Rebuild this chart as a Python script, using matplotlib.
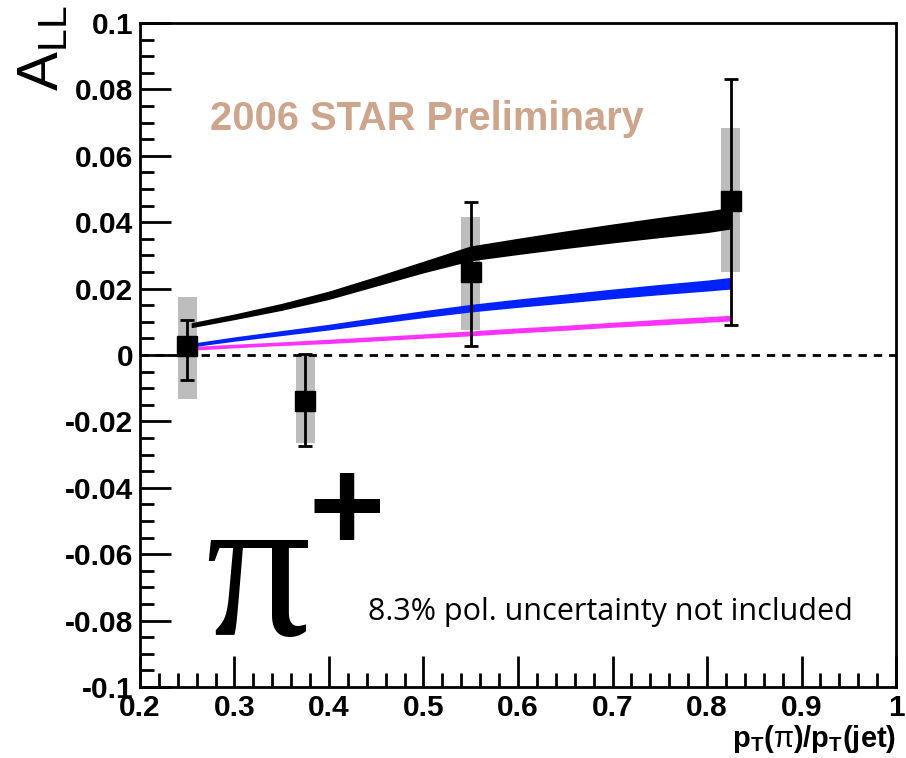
import numpy as np
import matplotlib.pyplot as plt
from matplotlib.ticker import MultipleLocator, FuncFormatter

plt.rcParams['font.family'] = ['Liberation Sans', 'DejaVu Sans']
plt.rcParams['mathtext.fontset'] = 'custom'
plt.rcParams['mathtext.rm'] = 'Liberation Sans'
plt.rcParams['mathtext.bf'] = 'Liberation Sans:bold'
plt.rcParams['mathtext.it'] = 'Liberation Sans:italic'

# datos medidos (pi+)
x_pts = [0.25, 0.375, 0.55, 0.825]
a_ll = [0.0027, -0.0138, 0.0251, 0.0465]
stat_lo = [0.0102, 0.0135, 0.0223, 0.0375]
stat_hi = [0.0078, 0.0141, 0.0211, 0.0365]
sys_lo = [-0.0133, -0.0266, 0.0075, 0.0251]
sys_hi = [0.0175, 0.0000, 0.0417, 0.0683]

# curvas teoricas (centro y semi-ancho de banda)
x_th = [0.255, 0.30, 0.35, 0.40, 0.45, 0.50, 0.55, 0.60, 0.65, 0.70, 0.75, 0.80, 0.825]
black_c = [0.009, 0.0115, 0.0145, 0.018, 0.0222, 0.0265, 0.0306, 0.0327, 0.0347, 0.0366, 0.0384, 0.0401, 0.0412]
black_w = [0.0005, 0.0006, 0.0008, 0.001, 0.0012, 0.0015, 0.002, 0.0022, 0.0024, 0.0026, 0.0028, 0.003, 0.003]
blue_c = [0.003, 0.0048, 0.0066, 0.0084, 0.0104, 0.0123, 0.0141, 0.0156, 0.017, 0.0184, 0.0197, 0.0209, 0.0216]
blue_w = [0.0003, 0.0004, 0.0005, 0.0006, 0.0007, 0.0008, 0.0009, 0.001, 0.0011, 0.0012, 0.0013, 0.0014, 0.0015]
mag_c = [0.002, 0.0027, 0.0034, 0.0041, 0.0049, 0.0057, 0.0065, 0.0074, 0.0082, 0.0091, 0.0099, 0.0107, 0.0111]
mag_w = [0.0003, 0.0003, 0.0003, 0.0004, 0.0004, 0.0004, 0.0005, 0.0005, 0.0005, 0.0005, 0.0006, 0.0006, 0.0006]

fig = plt.figure(figsize=(9.06, 7.58), dpi=100)
ax = fig.add_axes([0.1545, 0.0937, 0.8345, 0.876])

# cajas sistematicas
sys_h = np.array(sys_hi) - np.array(sys_lo)
ax.bar(x_pts, sys_h, bottom=sys_lo, width=0.02, color='#bdbdbd', zorder=1)

ax.axhline(0, color='black', lw=2, ls=(0, (3, 2.5)), zorder=2)

def banda(c, w, color):
    c = np.array(c)
    w = np.array(w)
    ax.fill_between(x_th, c - w, c + w, color=color, lw=1.2, edgecolor=color, zorder=3)

banda(mag_c, mag_w, '#ff33ff')
banda(blue_c, blue_w, '#0022ff')
banda(black_c, black_w, 'black')

ax.errorbar(x_pts, a_ll, yerr=[stat_lo, stat_hi], fmt='s', color='black', ms=14.5,
            elinewidth=2, capsize=5, capthick=2, zorder=4)

ax.set_xlim(0.2, 1.0)
ax.set_ylim(-0.1, 0.1)
ax.xaxis.set_major_locator(MultipleLocator(0.1))
ax.xaxis.set_minor_locator(MultipleLocator(0.02))
ax.yaxis.set_major_locator(MultipleLocator(0.02))
ax.yaxis.set_minor_locator(MultipleLocator(0.005))

def etiqueta(v, p):
    v = round(v, 3)
    if abs(v) < 1e-9:
        return '0'
    return '%g' % v

ax.xaxis.set_major_formatter(FuncFormatter(etiqueta))
ax.yaxis.set_major_formatter(FuncFormatter(etiqueta))
ax.tick_params(which='both', direction='in', top=False, right=False, width=2)
ax.tick_params(which='major', length=22, labelsize=21.5, pad=5)
ax.tick_params(which='minor', length=10)
for lab in ax.get_xticklabels() + ax.get_yticklabels():
    lab.set_fontweight('bold')
for s in ax.spines.values():
    s.set_linewidth(2)

ax.text(0.0925, 0.855, '2006 STAR Preliminary', transform=ax.transAxes, fontsize=28.7,
        fontweight='bold', color='#cda58c', va='center')
fig.text(368 / 906, 1 - 612 / 758, '8.3% pol. uncertainty not included', fontsize=22,
         family='Open Sans', va='center')
fig.text(258 / 906, 1 - 585 / 758, 'π', fontsize=150, family='Liberation Serif',
         ha='center', va='center')
fig.text(347 / 906, 1 - 515 / 758, '+', fontsize=94, fontweight='bold',
         ha='center', va='center')

fig.text(0.047, 0.937, r'$\mathregular{A_{LL}}$', fontsize=42, rotation=90,
         ha='center', va='center')
fig.text(0.989, 0.004, r'$\mathbf{p_T(}\mathrm{\pi}\mathbf{)/p_T(jet)}$', fontsize=21,
         ha='right', va='bottom')

fig.savefig('out.png', dpi=100)
